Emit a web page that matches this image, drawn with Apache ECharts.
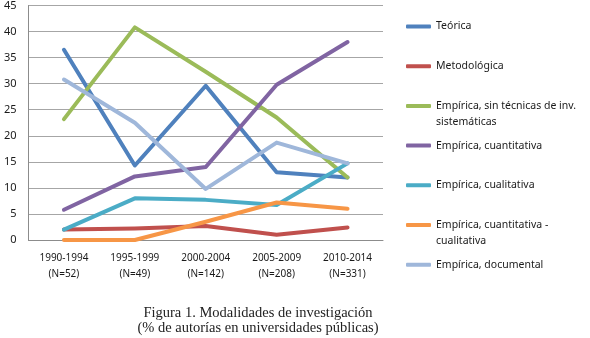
<!DOCTYPE html>
<html>
<head>
<meta charset="utf-8">
<script src="https://cdn.jsdelivr.net/npm/echarts@6/dist/echarts.min.js"></script>
<style>
  html, body { margin: 0; padding: 0; background: #ffffff; }
  #chart { width: 590px; height: 338px; }
</style>
</head>
<body>
<div id="chart"></div>
<script>
// Periods (with number of authorships per period)
const categories = [
  '1990-1994\n(N=52)',
  '1995-1999\n(N=49)',
  '2000-2004\n(N=142)',
  '2005-2009\n(N=208)',
  '2010-2014\n(N=331)'
];

// % of authorships by research modality
const teorica        = [36.5, 14.3, 29.6, 13.0, 12.0];
const metodologica   = [2.0, 2.2, 2.7, 1.0, 2.4];
const sinTecnicas    = [23.2, 40.8, 32.3, 23.5, 12.0];
const cuantitativa   = [5.8, 12.2, 14.0, 29.8, 38.0];
const cualitativa    = [2.0, 8.0, 7.7, 6.7, 14.7];
const cuantiCuali    = [0.0, 0.0, 3.5, 7.2, 6.0];
const documental     = [30.8, 22.5, 9.8, 18.7, 14.7];

const yTicks = [0, 5, 10, 15, 20, 25, 30, 35, 40, 45];

const seriesDefs = [
  { name: 'Teórica', legend: 'Teórica', data: teorica, color: '#4f81bd' },
  { name: 'Metodológica', legend: 'Metodológica', data: metodologica, color: '#c0504d' },
  { name: 'Empírica, sin técnicas de inv. sistemáticas', legend: 'Empírica, sin técnicas de inv.', data: sinTecnicas, color: '#9bbb59' },
  { name: 'Empírica, cuantitativa', legend: 'Empírica, cuantitativa', data: cuantitativa, color: '#8064a2' },
  { name: 'Empírica, cualitativa', legend: 'Empírica, cualitativa', data: cualitativa, color: '#4bacc6' },
  { name: 'Empírica, cuantitativa - cualitativa', legend: 'Empírica, cuantitativa -', data: cuantiCuali, color: '#f79646' },
  { name: 'Empírica, documental', legend: 'Empírica, documental', data: documental, color: '#9fb7da' }
];

const legendNames = {};
seriesDefs.forEach(s => { legendNames[s.name] = s.legend; });

const font = '"Noto Sans", "Open Sans", sans-serif';
const chart = echarts.init(document.getElementById('chart'), null, { renderer: 'canvas' });

chart.setOption({
  animation: false,
  backgroundColor: '#ffffff',
  grid: { left: 28.5, right: 207, top: 4.5, bottom: 98, containLabel: false },
  xAxis: {
    type: 'category',
    data: categories,
    boundaryGap: true,
    axisLine: { lineStyle: { color: '#8c8c8c', width: 1 } },
    axisTick: { show: false },
    axisLabel: { color: '#1a1a1a', fontFamily: font, fontSize: 10, lineHeight: 16, margin: 10 }
  },
  yAxis: {
    type: 'value',
    min: yTicks[0],
    max: yTicks[yTicks.length - 1],
    interval: 5,
    axisLine: { show: true, lineStyle: { color: '#8c8c8c', width: 1 } },
    axisTick: { show: false },
    axisLabel: { color: '#1a1a1a', fontFamily: font, fontSize: 11, margin: 12 },
    splitLine: { lineStyle: { color: '#a6a6a6', width: 1 } }
  },
  legend: {
    orient: 'vertical',
    left: 406,
    top: 19.5,
    padding: 0,
    icon: 'roundRect',
    itemWidth: 25,
    itemHeight: 4,
    itemGap: 25.7,
    itemStyle: { borderWidth: 0 },
    textStyle: { color: '#1a1a1a', fontFamily: font, fontSize: 10.5, lineHeight: 14 },
    formatter: name => legendNames[name],
    data: seriesDefs.map(s => s.name)
  },
  graphic: [
    { type: 'text', left: 436, top: 117, style: { text: 'sistemáticas', font: '10.5px ' + font, fill: '#1a1a1a' } },
    { type: 'text', left: 436, top: 236, style: { text: 'cualitativa', font: '10.5px ' + font, fill: '#1a1a1a' } },
    { type: 'text', x: 258, y: 306, style: {
        text: 'Figura 1. Modalidades de investigación\n(% de autorías en universidades públicas)',
        font: '14.5px "Liberation Serif", "DejaVu Serif", serif', fill: '#222222', align: 'center', lineHeight: 15 } }
  ],
  series: seriesDefs.map(s => ({
    name: s.name,
    type: 'line',
    data: s.data,
    color: s.color,
    symbol: 'none',
    smooth: false,
    lineStyle: { width: 4, color: s.color, cap: 'round', join: 'round' }
  }))
});
</script>
</body>
</html>
